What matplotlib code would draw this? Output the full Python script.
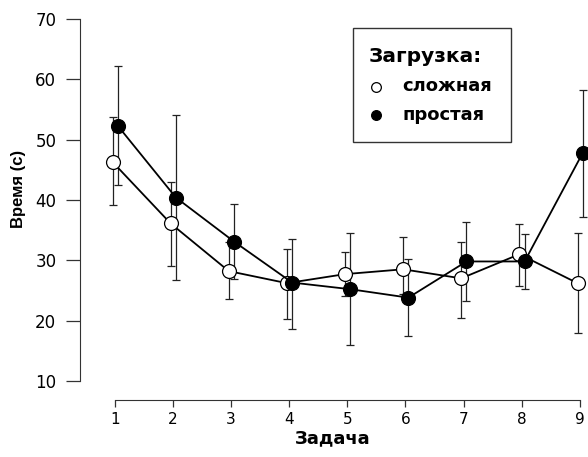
import matplotlib
matplotlib.use("Agg")
import matplotlib.pyplot as plt
from matplotlib.lines import Line2D
from matplotlib.patches import Rectangle

# -------------------------------
# DATA
# -------------------------------
tasks = [1, 2, 3, 4, 5, 6, 7, 8, 9]

hard_mean = [46.3, 36.1, 28.2, 26.2, 27.7, 28.5, 27.0, 31.0, 26.2]
hard_low = [39.2, 29.1, 23.5, 20.2, 24.0, 24.4, 20.5, 25.7, 17.9]
hard_high = [53.7, 43.0, 33.0, 31.9, 31.4, 33.8, 33.1, 36.0, 34.6]

easy_mean = [52.3, 40.4, 33.1, 26.3, 25.2, 23.8, 29.8, 29.8, 47.8]
easy_low = [42.4, 26.7, 26.9, 18.6, 15.9, 17.5, 23.2, 25.3, 37.2]
easy_high = [62.2, 54.1, 39.4, 33.6, 34.6, 30.2, 36.3, 34.3, 58.3]

y_ticks = [10, 20, 30, 40, 50, 60, 70]

legend_title = "Загрузка:"
legend_labels = ["сложная", "простая"]

# -------------------------------
# FONT
# -------------------------------
plt.rcParams["font.family"] = ["DejaVu Sans"]

W, H = 588, 457
fig = plt.figure(figsize=(W / 100, H / 100), dpi=100)
ax = fig.add_axes([0.136, 0.125, 0.86, 0.84])


def px(x, y):
    # pixel position (from top-left) -> figure fraction
    return x / W, 1 - y / H


# -------------------------------
# SERIES
# -------------------------------
def draw(means, low, high, shift, face):
    xs = [t + shift for t in tasks]
    err = [[m - l for m, l in zip(means, low)], [h - m for m, h in zip(means, high)]]
    eb = ax.errorbar(xs, means, yerr=err, fmt="none", ecolor="#222222",
                     elinewidth=0.9, capsize=3, capthick=0.9, zorder=2)
    for part in eb.lines[1] + eb.lines[2]:
        part.set_clip_on(False)
    ax.plot(xs, means, color="black", lw=1.3, marker="o", markersize=10,
            markerfacecolor=face, markeredgecolor="black", markeredgewidth=0.9,
            zorder=3, clip_on=False)


draw(hard_mean, hard_low, hard_high, -0.04, "white")
draw(easy_mean, easy_low, easy_high, 0.05, "black")

# -------------------------------
# AXES
# -------------------------------
ax.set_xlim(0.4, 9.1)
ax.set_ylim(6.85, 70.5)
ax.spines["top"].set_visible(False)
ax.spines["right"].set_visible(False)
ax.spines["left"].set_position(("data", 0.4))
ax.spines["bottom"].set_position(("data", 6.85))
ax.spines["left"].set_bounds(10, 70)
ax.spines["bottom"].set_bounds(1, 9)
ax.spines["left"].set_color("#333333")
ax.spines["bottom"].set_color("#333333")

ax.set_xticks(tasks)
ax.set_yticks(y_ticks)
ax.tick_params(axis="y", length=10, width=0.9, labelsize=12, pad=7, color="#333333")
ax.tick_params(axis="x", length=5, width=0.9, labelsize=11, pad=4, color="#333333")

ax.set_xlabel("Задача", fontsize=13, fontweight="bold", labelpad=1)
ax.set_ylabel("Время (с)", fontsize=12, fontweight="bold",
              family=["Liberation Sans", "DejaVu Sans"])
ax.yaxis.set_label_coords(-0.107, 0.55)

# -------------------------------
# LEGEND (drawn by hand to match the box)
# -------------------------------
x0, y0 = px(353, 142)
x1, y1 = px(511, 28)
fig.add_artist(Rectangle((x0, y0), x1 - x0, y1 - y0, transform=fig.transFigure,
                         facecolor="white", edgecolor="#333333", lw=1.0))

tx, ty = px(369, 62)
fig.text(tx, ty, legend_title, fontsize=14.5, fontweight="bold", va="baseline")

faces = ["white", "black"]
rows = [(87, 91), (115, 120)]
for lab, face, (my, by) in zip(legend_labels, faces, rows):
    mx, myf = px(376, my)
    fig.add_artist(Line2D([mx], [myf], transform=fig.transFigure, ls="none",
                          marker="o", markersize=7, markerfacecolor=face,
                          markeredgecolor="black", markeredgewidth=0.9))
    lx, ly = px(402, by)
    fig.text(lx, ly, lab, fontsize=13, fontweight="bold", va="baseline")

fig.savefig("out.png", dpi=100)
